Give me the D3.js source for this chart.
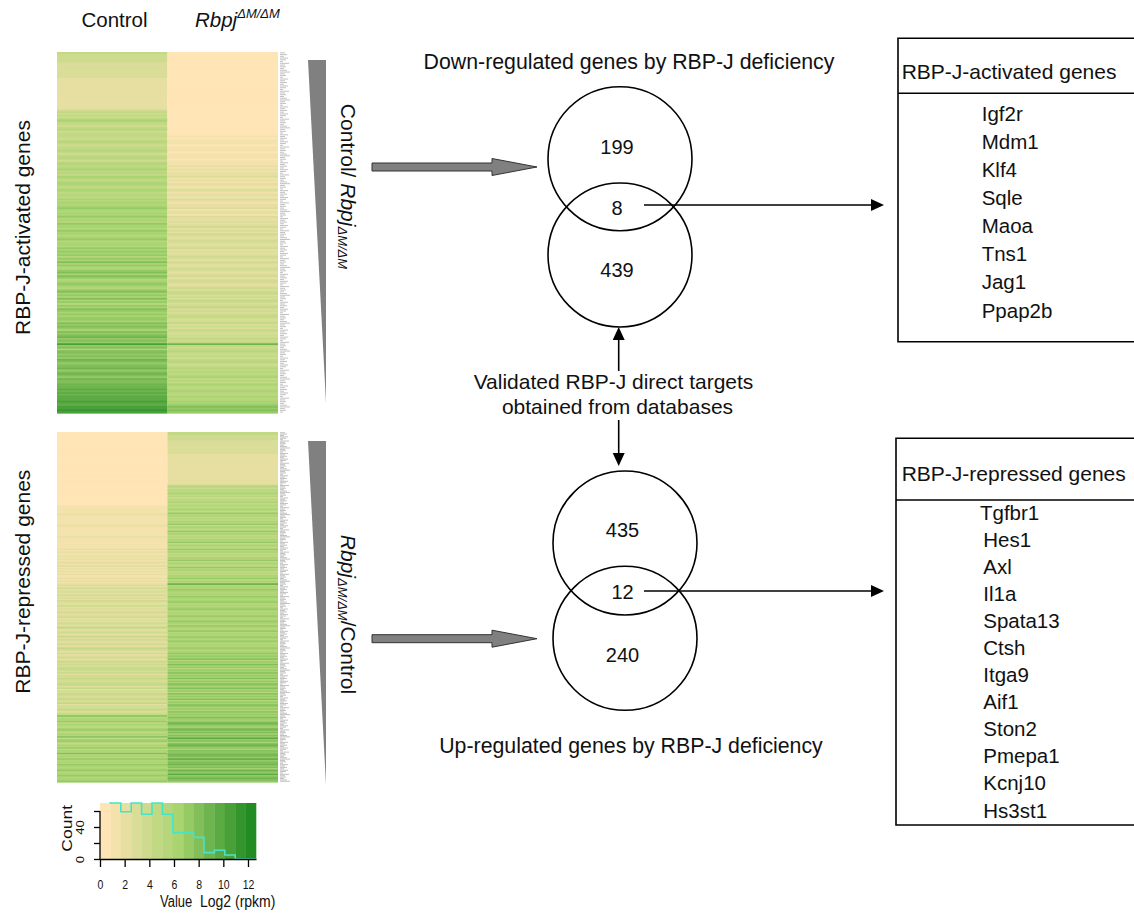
<!DOCTYPE html>
<html>
<head>
<meta charset="utf-8">
<script src="https://cdn.jsdelivr.net/npm/d3@7"></script>
<style>
  body { margin: 0; background: #fff; }
  svg { display: block; }
  text { font-family: "Liberation Sans", Arial, Helvetica, sans-serif; fill: #111; }
</style>
</head>
<body>
<svg id="fig" width="1134" height="913"></svg>
<script>
// ---------------- data ----------------
const sampleNames = ["Control", "Rbpj"];
const genotypeSup = "ΔM/ΔM";

// Expression per gene row, one hex digit per gene = colour-key bin (0..e) of log2(rpkm)
const activatedControl = [
  "544444", "33333333322", "2222222222222222", "454546755456455",
  "5456545565456546", "6567565765676567566576", "76787677867687768776786776878",
  "78687978678979867887689787978687987878", "8798987989a898c8979",
  "9898a9899a89a98a99a", "aabababbbcbbccdc"
].join("");
const activatedMutant = [
  "000000000000000000000000000000000000000000000000", "1011101110111011",
  "12121223121221231221321223122132", "23234232432343234232343243234323423432",
  "34345343543453434543453435434", "4545a54565454565456",
  "5656756576567657667", "789898"
].join("");
const repressedControl = [
  "00000000000000000000000000000000000000000000000000000",
  "111111211111112111111121111111", "12121121212213121212112121",
  "23242332423243234232432342", "32432542342352432432543242342353",
  "434543524354345435243543453452435434", "59576857657865769578657685769",
  "67686768767876786778"
].join("");
const repressedMutant = [
  "554444", "3333333333", "2222222222222222222222", "564656756465756",
  "6576586756", "5768576586", "7565768576", "5867565768", "5765867565", "768576",
  "b", "6768767687", "6786767876", "7687678768", "7678676876", "8767687678",
  "7879687978", "6879787968", "7987978697", "8796879878", "69787987",
  "8a9879a897", "98b8979a98", "7989a98b89", "9a897a98b8", "9a98"
].join("");

// colour key: value range, number of bins and histogram counts per bin
const keyMax = 12.65;
const keyBinCount = 15;
const keyCounts = [96, 70, 59, 70, 56, 70, 56, 33, 33, 27, 8, 11, 5, 0, 0];
const keyTicksX = [0, 2, 4, 6, 8, 10, 12];
const keyTicksY = [0, 20, 40, 60];

// Venn counts: [upper set only, overlap, lower set only]
const vennDown = [199, 8, 439];
const vennUp = [435, 12, 240];

const activatedGenes = ["Igf2r", "Mdm1", "Klf4", "Sqle", "Maoa", "Tns1", "Jag1", "Ppap2b"];
const repressedGenes = ["Tgfbr1", "Hes1", "Axl", "Il1a", "Spata13", "Ctsh", "Itga9",
  "Aif1", "Ston2", "Pmepa1", "Kcnj10", "Hs3st1"];

// ---------------- scales ----------------
const svg = d3.select("#fig");
svg.append("rect").attr("width", 1134).attr("height", 913).attr("fill", "#fff");

const binWidth = keyMax / keyBinCount;
const toValues = s => Array.from(s, c => (parseInt(c, 16) + 0.5) * binWidth);
const keyColors = d3.quantize(d3.piecewise(d3.interpolateRgb, ["#FFE4B5", "#A9D470", "#228B22"]), keyBinCount);
const color = d3.scaleQuantize().domain([0, keyMax]).range(keyColors);

// ---------------- heatmaps ----------------
const labelPattern = [5, 7, 4, 8, 6, 3, 9, 5, 6, 4, 7, 10, 5, 6, 3, 8];
function heatmap(ctrl, mut, y0, y1) {
  const a = toValues(ctrl), b = toValues(mut);
  const n = a.length;
  const x = d3.scaleBand().domain(sampleNames).range([57, 278]);
  const y = d3.scaleBand().domain(d3.range(n)).range([y0, y1]);
  const cells = [];
  a.forEach((v, i) => cells.push({ s: sampleNames[0], i, v }));
  b.forEach((v, i) => cells.push({ s: sampleNames[1], i, v }));
  const g = svg.append("g");
  g.selectAll("rect").data(cells).join("rect")
    .attr("x", d => x(d.s))
    .attr("y", d => y(d.i))
    .attr("width", x.bandwidth())
    .attr("height", y.bandwidth() + 0.6)
    .attr("fill", d => color(d.v));
  // row name strip (gene labels printed too small to read)
  g.selectAll("line.lab").data(d3.range(n)).join("line")
    .attr("class", "lab")
    .attr("x1", 280).attr("x2", i => 280 + labelPattern[i % labelPattern.length])
    .attr("y1", i => y(i) + y.bandwidth() / 2).attr("y2", i => y(i) + y.bandwidth() / 2)
    .attr("stroke", "#a8a8a8").attr("stroke-width", 0.7);
}
heatmap(activatedControl, activatedMutant, 52, 413);
heatmap(repressedControl, repressedMutant, 432, 782);

// column headers
svg.append("text").attr("x", 114.5).attr("y", 27).attr("text-anchor", "middle")
  .attr("font-size", 20.5).text("Control");
const hdr = svg.append("text").attr("x", 195).attr("y", 27).attr("font-size", 20.5).attr("font-style", "italic");
hdr.append("tspan").text("Rbpj");
hdr.append("tspan").attr("font-size", 13).attr("dy", -9).text(genotypeSup);

// side titles
svg.append("text").attr("transform", "translate(30,227.5) rotate(-90)")
  .attr("text-anchor", "middle").attr("font-size", 21).text("RBP-J-activated genes");
svg.append("text").attr("transform", "translate(30,581.7) rotate(-90)")
  .attr("text-anchor", "middle").attr("font-size", 21).text("RBP-J-repressed genes");

// ratio wedges
const wedge = (top, bottom) => `M308,${top}L326,${top}L326,${bottom}Z`;
svg.append("path").attr("d", wedge(60, 403)).attr("fill", "#808080");
svg.append("path").attr("d", wedge(441, 785)).attr("fill", "#808080");

const r1 = svg.append("text").attr("transform", "translate(341,186.5) rotate(90)")
  .attr("text-anchor", "middle").attr("font-size", 21);
r1.append("tspan").text("Control/ ");
r1.append("tspan").attr("font-style", "italic").text("Rbpj");
r1.append("tspan").attr("font-style", "italic").attr("font-size", 13).attr("dy", 3).text(genotypeSup);

const r2 = svg.append("text").attr("transform", "translate(341,614.5) rotate(90)")
  .attr("text-anchor", "middle").attr("font-size", 21);
r2.append("tspan").attr("font-style", "italic").text("Rbpj");
r2.append("tspan").attr("font-style", "italic").attr("font-size", 13).attr("dy", 3).text(genotypeSup);
r2.append("tspan").attr("dy", -3).text("/Control");

// block arrows
function blockArrow(cy) {
  const pts = [[372, cy - 4], [492, cy - 4], [492, cy - 8.5], [537, cy], [492, cy + 8.5], [492, cy + 4], [372, cy + 4]];
  svg.append("polygon").attr("points", pts.map(p => p.join(",")).join(" "))
    .attr("fill", "#808080").attr("stroke", "#333").attr("stroke-width", 1);
}
blockArrow(167);
blockArrow(638.7);

// ---------------- Venn diagrams ----------------
function venn(cx, cyTop, cyBot, counts, textY, textX) {
  [cyTop, cyBot].forEach(cy => svg.append("circle").attr("cx", cx).attr("cy", cy).attr("r", 72)
    .attr("fill", "none").attr("stroke", "#000").attr("stroke-width", 1.6));
  counts.forEach((c, i) => svg.append("text").attr("x", textX).attr("y", textY[i])
    .attr("text-anchor", "middle").attr("font-size", 20).text(c));
}
venn(620, 158.7, 255, vennDown, [154, 215, 277], 617);
venn(625, 543, 638.3, vennUp, [537, 599, 662], 622.5);

svg.append("text").attr("x", 629).attr("y", 69).attr("text-anchor", "middle")
  .attr("font-size", 21.3).text("Down-regulated genes by RBP-J deficiency");
svg.append("text").attr("x", 631).attr("y", 753).attr("text-anchor", "middle")
  .attr("font-size", 21.3).text("Up-regulated genes by RBP-J deficiency");
svg.append("text").attr("x", 613.5).attr("y", 389).attr("text-anchor", "middle")
  .attr("font-size", 21).text("Validated RBP-J direct targets");
svg.append("text").attr("x", 617.5).attr("y", 414).attr("text-anchor", "middle")
  .attr("font-size", 21).text("obtained from databases");

// thin arrows
function thinArrow(x1, y1, x2, y2) {
  const ang = Math.atan2(y2 - y1, x2 - x1);
  const L = 13, W = 6;
  const bx = x2 - L * Math.cos(ang), by = y2 - L * Math.sin(ang);
  svg.append("line").attr("x1", x1).attr("y1", y1).attr("x2", bx).attr("y2", by)
    .attr("stroke", "#000").attr("stroke-width", 1.6);
  const px = -Math.sin(ang) * W, py = Math.cos(ang) * W;
  svg.append("polygon").attr("points", `${x2},${y2} ${bx + px},${by + py} ${bx - px},${by - py}`).attr("fill", "#000");
}
thinArrow(644, 205, 884, 205);
thinArrow(644, 591, 884, 591);
thinArrow(618.7, 371, 618.7, 327);
thinArrow(618.7, 420, 618.7, 466);

// ---------------- gene tables ----------------
function table(x, top, sep, bottom, title, titleY, genes, gy0, gy1, gx) {
  svg.append("path").attr("d", `M1140,${top}H${x}V${bottom}H1140`).attr("fill", "none")
    .attr("stroke", "#000").attr("stroke-width", 1.6);
  svg.append("line").attr("x1", x).attr("x2", 1140).attr("y1", sep).attr("y2", sep)
    .attr("stroke", "#000").attr("stroke-width", 1.6);
  svg.append("text").attr("x", 901.7).attr("y", titleY).attr("font-size", 21).text(title);
  const y = d3.scalePoint().domain(genes).range([gy0, gy1]);
  svg.append("g").selectAll("text").data(genes).join("text")
    .attr("x", (d, i) => gx(i)).attr("y", d => y(d) + 7.5)
    .attr("font-size", 20.5).text(d => d);
}
table(898, 38.3, 93.3, 341.7, "RBP-J-activated genes", 79, activatedGenes, 113, 310, () => 981.7);
table(896, 438.3, 500, 825, "RBP-J-repressed genes", 481, repressedGenes, 512, 810, i => i === 0 ? 980 : 983.3);

// ---------------- colour key ----------------
const kx = d3.scaleLinear().domain([0, keyMax]).range([100, 256]);
const ky = d3.scaleLinear().domain([0, 70]).range([859, 803]);
const edges = d3.range(keyBinCount + 1).map(i => i * binWidth);
const key = svg.append("g");
key.selectAll("rect").data(keyColors).join("rect")
  .attr("x", (d, i) => kx(edges[i])).attr("width", (d, i) => kx(edges[i + 1]) - kx(edges[i]) + 0.3)
  .attr("y", ky(70)).attr("height", ky(0) - ky(70)).attr("fill", d => d);
key.append("clipPath").attr("id", "keyclip").append("rect")
  .attr("x", kx(0)).attr("y", ky(70) - 1).attr("width", kx(keyMax) - kx(0)).attr("height", ky(0) - ky(70) + 2);
const histPts = keyCounts.map((c, i) => [edges[i], c]).concat([[keyMax, keyCounts[keyCounts.length - 1]]]);
key.append("path").attr("clip-path", "url(#keyclip)")
  .attr("d", d3.line().x(d => kx(d[0])).y(d => ky(d[1])).curve(d3.curveStepAfter)(histPts))
  .attr("fill", "none").attr("stroke", "#48E3C6").attr("stroke-width", 1.6);

const xAxis = key.append("g").attr("transform", `translate(0,${ky(0)})`)
  .call(d3.axisBottom(kx).tickValues(keyTicksX).tickSize(8).tickSizeOuter(0));
xAxis.select(".domain").attr("stroke-width", 1.5);
xAxis.selectAll(".tick line").attr("stroke-width", 1.3);
xAxis.selectAll(".tick text").attr("y", 24).attr("dy", 0).attr("font-size", 10.5)
  .attr("font-family", "Liberation Sans, Arial, sans-serif").attr("fill", "#111")
  .attr("transform", "scale(1,1.25)");

const yAxis = key.append("g").attr("transform", `translate(${kx(0)},0)`)
  .call(d3.axisLeft(ky).tickValues(keyTicksY).tickSize(6).tickSizeOuter(0)
    .tickFormat(d => (d % 40 === 0 ? d : "")));
yAxis.select(".domain").attr("d", `M0,${ky(0)}V${ky(60)}`).attr("stroke-width", 1.3);
yAxis.selectAll(".tick line").attr("stroke-width", 1.3);
yAxis.selectAll(".tick text").attr("x", 0).attr("y", 0).attr("dy", 0)
  .attr("text-anchor", "middle").attr("font-size", 10.5)
  .attr("font-family", "Liberation Sans, Arial, sans-serif").attr("fill", "#111")
  .attr("transform", "translate(-16.5,0) rotate(-90) scale(1.25,1)");

svg.append("text").attr("transform", "translate(72,828.3) rotate(-90) scale(1.25,1)")
  .attr("text-anchor", "middle").attr("font-size", 14).text("Count");
svg.append("text").attr("transform", "translate(160,907) scale(1,1.25)")
  .attr("font-size", 13).text("Value");
svg.append("text").attr("transform", "translate(200,907) scale(1,1.2)")
  .attr("font-size", 14).text("Log2 (rpkm)");
</script>
</body>
</html>
